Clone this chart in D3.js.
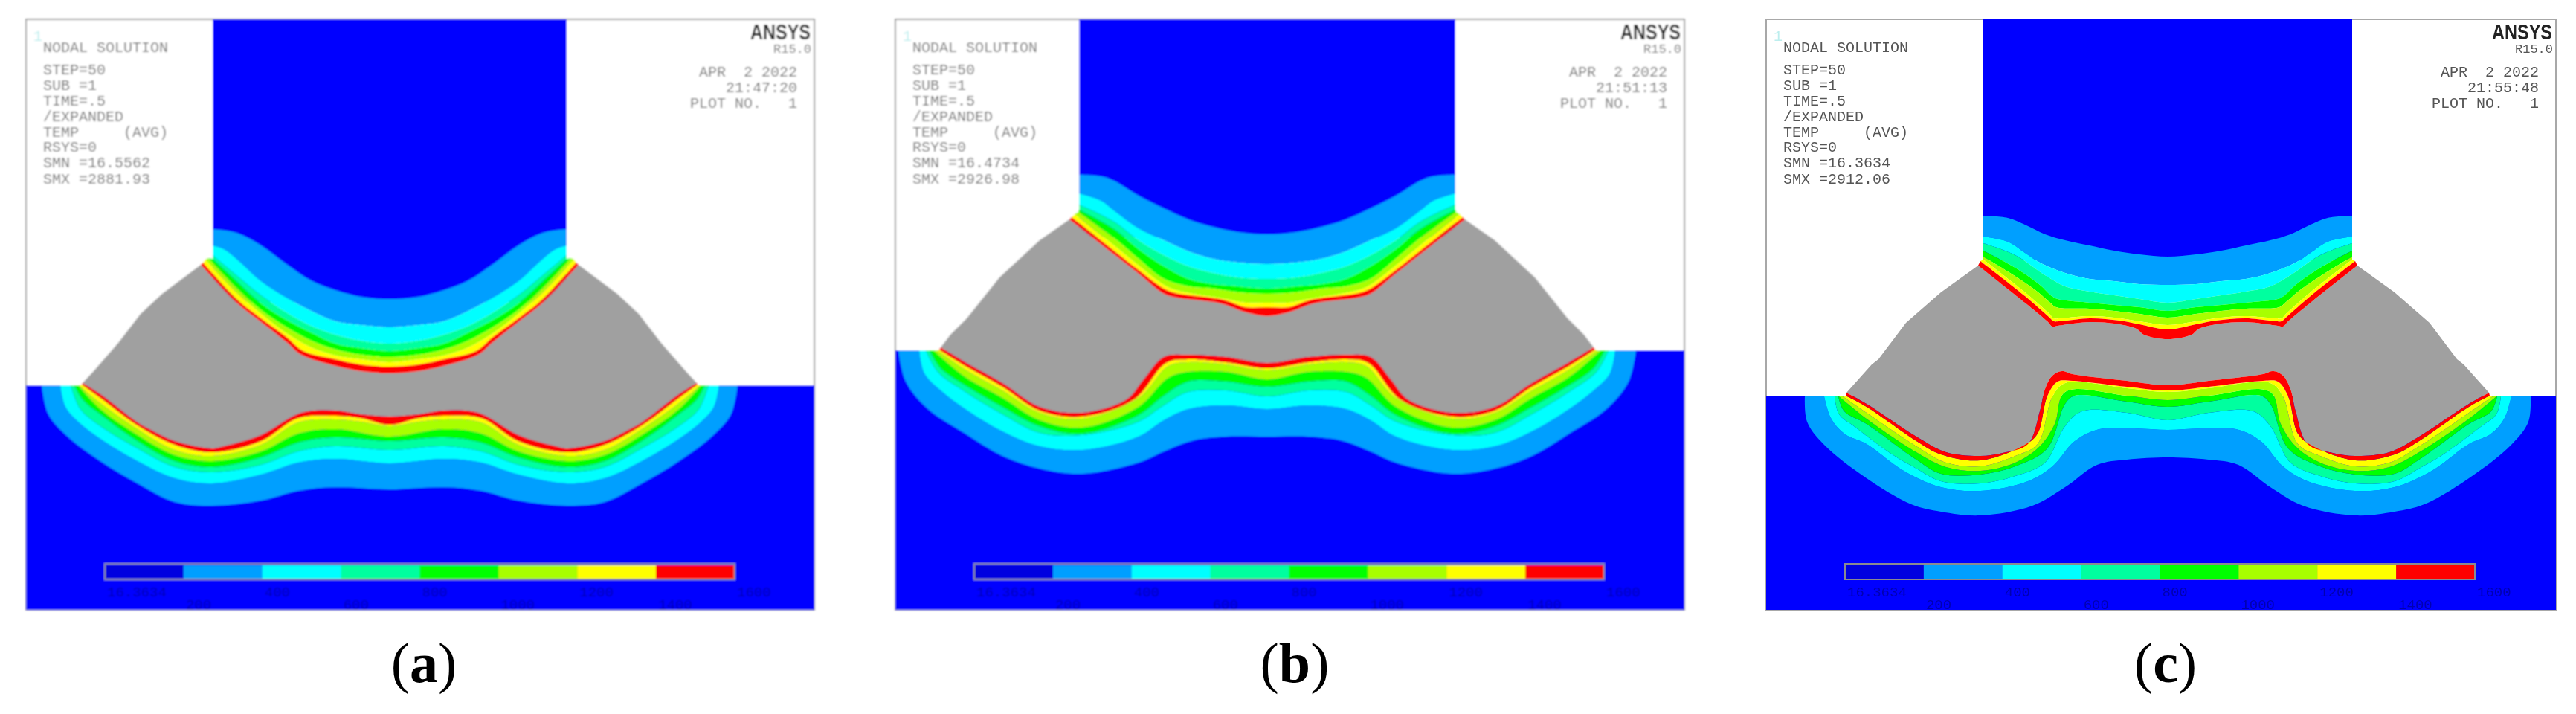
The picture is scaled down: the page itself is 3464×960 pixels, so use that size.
<!DOCTYPE html>
<html><head><meta charset="utf-8">
<script src="https://cdn.jsdelivr.net/npm/d3@7"></script>
<style>html,body{margin:0;padding:0;background:#fff}svg{display:block}text{white-space:pre}</style>
</head><body><svg id="c" width="3464" height="960"></svg>
<script>
const bandColors=["#0000ff","#009fff","#00ffff","#00ff9f","#00ff00","#a8ff00","#ffff00","#ff0000"];
const grayColor="#a0a0a0";
const legendLabels=["16.3634","200","400","600","800","1000","1200","1400","1600"];
const headerLines=[["NODAL SOLUTION",70],["STEP=50",100],["SUB =1",121],["TIME=.5",142],["/EXPANDED",163],["TEMP     (AVG)",184],["RSYS=0",204]];
const captions=["a","b","c"];
const smnValues=["SMN =16.5562","SMN =16.4734","SMN =16.3634"];
const smxValues=["SMX =2881.93","SMX =2926.98","SMX =2912.06"];
const clockValues=["21:47:20","21:51:13","21:55:48"];
const frameLeft=[35,1204,2375], frameRight=[1095,2265,3437];
const centerX=[524,1704,2915], halfWidth=[238,253,248], baseY=[518,471,533];
const captionX=[570,1741,2912];
const frameTop=26, frameBottom=820;

// isotherm half-curves [offset from weld axis, height]; index order cold -> hot, last = melt boundary
const upperA=[
[[0,402],[39,399],[73,390],[106,377],[139,355],[173,330],[206,313],[238,308]],
[[0,440],[39,437],[73,432],[106,418],[139,400],[173,378],[206,348],[223,335],[238,330]],
[[0,462],[39,458],[73,450],[106,438],[139,420],[173,397],[206,370],[238,343]],
[[0,472],[39,468],[73,462],[106,447],[139,430],[173,408],[206,378],[238,348]],
[[0,480],[39,477],[73,470],[106,458],[139,440],[173,417],[206,387],[244,347]],
[[0,487],[39,483],[73,478],[106,467],[139,448],[173,422],[206,393],[248,349]],
[[0,493],[39,490],[73,483],[116,472],[139,453],[173,428],[206,402],[251,353]],
[[0,502],[39,499],[73,492],[119,477],[139,460],[173,433],[206,407],[254,356]]];
const lowerA=[
[[0,658],[73,655],[123,660],[173,673],[239,680],[289,675],[339,650],[389,620],[433,587],[459,557],[468,518]],
[[0,623],[73,617],[123,622],[173,638],[239,650],[289,643],[339,620],[389,590],[419,567],[436,547],[443,518]],
[[0,605],[73,600],[123,607],[173,625],[239,635],[289,628],[339,603],[389,573],[416,550],[429,518]],
[[0,593],[73,588],[123,595],[173,615],[239,628],[289,620],[339,593],[389,557],[413,537],[424,518]],
[[0,587],[73,577],[123,583],[173,607],[239,620],[289,612],[339,585],[389,550],[419,518]],
[[0,573],[39,567],[73,564],[123,568],[173,598],[239,613],[289,605],[339,577],[389,542],[418,518]],
[[0,571],[39,562],[73,559],[123,562],[173,593],[239,608],[289,598],[339,572],[389,535],[414,517]],
[[0,560],[39,557],[73,552],[119,555],[173,585],[223,600],[239,603],[289,593],[323,577],[339,568],[389,530],[413,515]]];
const outerA=[[254,356],[306,395],[335,422],[365,461],[399,500],[413,515]];

const upperB=[
[[0,315],[39,312],[73,305],[106,295],[139,280],[173,263],[206,243],[223,237],[253,235]],
[[0,355],[39,353],[73,348],[106,338],[139,323],[173,307],[206,283],[223,270],[253,260]],
[[0,375],[39,373],[73,367],[106,358],[139,343],[173,323],[206,298],[253,275]],
[[0,388],[39,385],[73,382],[106,375],[139,358],[173,335],[206,308],[253,282]],
[[0,395],[39,393],[73,388],[106,385],[139,375],[173,348],[206,320],[254,285]],
[[0,407],[29,407],[56,402],[123,390],[139,383],[173,357],[206,330],[259,288]],
[[0,413],[29,413],[59,403],[123,394],[139,388],[173,363],[206,337],[263,292]],
[[0,425],[29,420],[63,408],[123,400],[139,395],[173,368],[206,342],[266,295]]];
const lowerB=[
[[0,587],[56,587],[99,592],[139,607],[173,622],[249,637],[306,630],[356,613],[406,583],[456,550],[486,513],[496,471]],
[[0,550],[56,545],[106,550],[139,565],[173,587],[249,605],[306,600],[356,580],[406,550],[439,525],[461,502],[468,471]],
[[0,533],[56,525],[106,527],[139,545],[173,567],[249,585],[306,582],[356,557],[406,527],[443,500],[459,471]],
[[0,520],[56,513],[106,513],[139,532],[173,558],[249,583],[306,573],[356,547],[406,518],[439,495],[454,471]],
[[0,510],[56,500],[106,500],[133,508],[173,547],[249,575],[306,565],[356,535],[406,507],[449,471]],
[[0,498],[56,490],[106,487],[133,492],[173,535],[249,563],[306,555],[356,525],[406,497],[444,471]],
[[0,495],[56,487],[106,483],[136,488],[179,537],[249,560],[306,552],[356,520],[406,492],[441,470]],
[[0,488],[56,480],[106,477],[139,480],[166,510],[189,537],[249,555],[306,547],[356,515],[406,487],[439,467]]];
const outerB=[[266,295],[306,323],[360,373],[404,428],[426,450],[439,467]];

const upperC=[
[[0,345],[38,342],[72,337],[105,330],[138,323],[165,315],[192,302],[215,293],[248,290]],
[[0,383],[38,382],[72,378],[105,375],[138,367],[172,353],[192,340],[215,325],[248,318]],
[[0,407],[38,402],[72,397],[105,392],[138,385],[165,370],[205,343],[248,327]],
[[0,418],[38,413],[72,410],[105,407],[148,402],[156,398],[172,383],[205,360],[248,337]],
[[0,427],[38,422],[72,418],[105,415],[150,413],[158,407],[178,390],[212,367],[248,345]],
[[0,437],[38,432],[72,427],[105,425],[146,428],[153,428],[160,421],[192,393],[248,349]],
[[0,443],[38,436],[65,431],[105,428],[146,432],[153,432],[160,426],[192,398],[252,351]],
[[0,456],[32,450],[42,442],[72,435],[105,433],[148,438],[155,439],[162,432],[192,407],[255,357]]];
const lowerC=[
[[0,615],[55,618],[95,625],[138,655],[182,680],[252,693],[305,688],[345,678],[405,643],[462,598],[485,567],[488,533]],
[[0,578],[45,576],[92,577],[125,593],[155,627],[188,647],[252,660],[305,655],[355,633],[405,597],[435,583],[453,562],[462,533]],
[[0,565],[55,555],[115,553],[138,573],[165,622],[205,640],[252,650],[305,647],[338,630],[372,610],[422,573],[442,557],[448,533]],
[[0,547],[55,540],[125,532],[138,543],[162,603],[205,627],[252,638],[305,637],[338,618],[405,570],[435,553],[443,533]],
[[0,538],[55,532],[138,527],[152,570],[172,600],[205,622],[252,633],[298,628],[338,608],[405,563],[442,533]],
[[0,527],[55,522],[138,515],[155,533],[175,597],[205,613],[252,627],[298,622],[338,600],[405,555],[437,533]],
[[0,525],[55,520],[128,512],[148,513],[162,533],[175,583],[192,598],[252,619],[305,611],[338,593],[405,547],[433,532]],
[[0,518],[55,512],[128,503],[142,499],[155,505],[165,523],[172,553],[188,597],[222,609],[252,613],[298,608],[338,587],[405,543],[432,528]]];
const outerC=[[255,357],[305,393],[352,434],[389,483],[398,490],[432,528]];

const uppers=[upperA,upperB,upperC], lowers=[lowerA,lowerB,lowerC], outers=[outerA,outerB,outerC];

const svg=d3.select("#c");
const defs=svg.append("defs");
[1.3,1.1,0.7].forEach((s,i)=>defs.append("filter").attr("id","soft"+i).attr("x","-2%").attr("y","-2%").attr("width","104%").attr("height","104%")
  .append("feGaussianBlur").attr("stdDeviation",s));
const mono="'Liberation Mono','DejaVu Sans Mono',monospace";

captions.forEach((cap,p)=>{
  const g=svg.append("g").attr("filter",`url(#soft${p})`);
  const hw=halfWidth[p];
  const x=d3.scaleLinear().domain([-hw,hw]).range([centerX[p]-hw,centerX[p]+hw]);
  const y=d3.scaleLinear().domain([0,960]).range([0,960]);
  const line=d3.line().x(d=>x(d[0])).y(d=>y(d[1])).curve(d3.curveCatmullRom.alpha(0.5));
  const straight=d3.line().x(d=>x(d[0])).y(d=>y(d[1]));
  const full=h=>h.slice(1).map(d=>[-d[0],d[1]]).reverse().concat(h);
  const band=(a,b)=>line(a)+"L"+line(b.slice().reverse()).slice(1)+"Z";

  g.append("rect").attr("x",frameLeft[p]).attr("y",frameTop).attr("width",frameRight[p]-frameLeft[p]).attr("height",frameBottom-frameTop)
    .attr("fill","#fff").attr("stroke","#a8a8a8").attr("stroke-width",2);
  // plates
  g.append("rect").attr("x",frameLeft[p]).attr("y",y(baseY[p])).attr("width",frameRight[p]-frameLeft[p]).attr("height",frameBottom-baseY[p]).attr("fill",bandColors[0]);
  const up=uppers[p], lo=lowers[p];
  g.append("rect").attr("x",x(-hw)).attr("y",frameTop).attr("width",x(hw)-x(-hw)).attr("height",y(d3.max(up[0],d=>d[1]))-frameTop+4).attr("fill",bandColors[0]);

  // weld pool
  const uMelt=full(up[7]), lMelt=full(lo[7]), out=outers[p];
  const rightSide=straight(out.slice(1)).replace("M","L");
  const leftSide=straight(out.slice(0,-1).map(d=>[-d[0],d[1]]).reverse()).replace("M","L");
  g.append("path").attr("d",line(uMelt)+rightSide+"L"+line(lMelt.slice().reverse()).slice(1)+leftSide+"Z").attr("fill",grayColor);

  // isotherm bands
  [up,lo].forEach(set=>{
    d3.range(7).forEach(i=>{
      g.append("path").attr("d",band(full(set[i]),full(set[i+1]))).attr("fill",bandColors[i+1]);
    });
  });

  // legend bar
  const lx=frameLeft[p]+106, lw=847;
  const cell=d3.scaleBand().domain(d3.range(8)).range([lx,lx+lw]);
  g.selectAll(null).data(bandColors).join("rect").attr("x",(d,i)=>cell(i)).attr("y",760).attr("width",cell.bandwidth()+.5).attr("height",18)
    .attr("fill",(d,i)=>i==0?"#0000e0":d);
  g.append("rect").attr("x",lx).attr("y",758).attr("width",lw).attr("height",21).attr("fill","none").attr("stroke","#8a8a90").attr("stroke-width",2);
  const tick=d3.scalePoint().domain(legendLabels).range([lx,lx+lw]);
  g.selectAll(null).data(legendLabels).join("text").text(d=>d)
    .attr("x",d=>tick(d)+3).attr("y",(d,i)=>i%2?819:802)
    .attr("font-family",mono).attr("font-size",19).attr("fill","#0000b0");

  // header text
  const tx=frameLeft[p]+23, right=frameRight[p];
  const ink=p==2?"#555":"#777";
  g.append("text").text("1").attr("x",frameLeft[p]+10).attr("y",55).attr("font-family",mono).attr("font-size",20).attr("fill","#bdeeee");
  headerLines.concat([[smnValues[p],225],[smxValues[p],247]]).forEach(l=>{
    g.append("text").text(l[0]).attr("x",tx).attr("y",l[1]).attr("font-family",mono).attr("font-size",20).attr("fill",ink);
  });
  [["APR  2 2022",103],[clockValues[p],124],["PLOT NO.   1",145]].forEach(l=>{
    g.append("text").text(l[0]).attr("x",right-23).attr("y",l[1]).attr("text-anchor","end").attr("font-family",mono).attr("font-size",20).attr("fill",ink);
  });
  g.append("text").text("ANSYS").attr("x",right-86).attr("y",53).attr("textLength",81).attr("lengthAdjust","spacingAndGlyphs")
    .attr("font-family","'Liberation Sans',sans-serif").attr("font-weight","bold").attr("font-size",30).attr("fill","#222");
  g.append("text").text("R15.0").attr("x",right-4).attr("y",71).attr("text-anchor","end").attr("font-family",mono).attr("font-size",17).attr("fill",ink);

  const t=svg.append("text").attr("x",captionX[p]).attr("y",917).attr("text-anchor","middle")
    .attr("font-family","'Liberation Serif',serif").attr("font-size",76).attr("fill","#000");
  t.append("tspan").text("(");
  t.append("tspan").text(cap).attr("font-weight","bold");
  t.append("tspan").text(")");
});
</script></body></html>
